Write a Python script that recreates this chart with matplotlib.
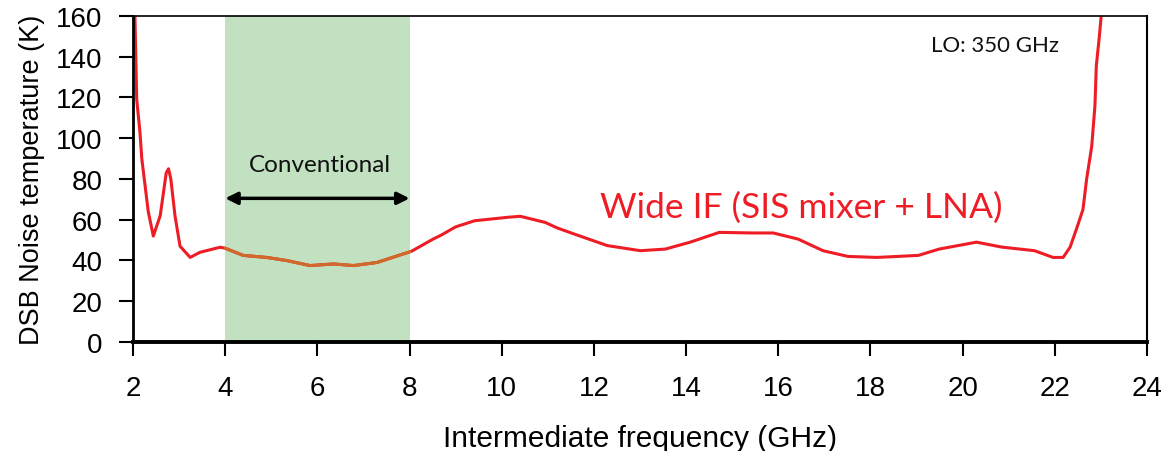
import matplotlib
matplotlib.use("Agg")
import matplotlib.pyplot as plt
import numpy as np

# IF frequency (GHz) and DSB noise temperature (K)
freq = [2.02, 2.04, 2.08, 2.15, 2.19, 2.26, 2.33, 2.44, 2.59, 2.72, 2.77, 2.82,
        2.91, 3.02, 3.24, 3.45, 3.89, 4.00, 4.39, 4.90, 5.33, 5.84, 6.35, 6.78,
        7.29, 7.79, 8.04, 8.51, 8.69, 9.00, 9.41, 10.13, 10.40, 10.94, 11.20,
        11.57, 12.29, 13.01, 13.55, 14.09, 14.72, 15.44, 15.89, 16.43, 16.97,
        17.51, 18.14, 19.04, 19.49, 20.30, 20.84, 21.56, 21.96, 22.18, 22.33,
        22.47, 22.61, 22.69, 22.80, 22.87, 22.90, 22.96, 23.01, 23.05]
tsys = [175, 161, 119, 103, 90, 77, 64, 52, 62, 83, 85, 80,
        62, 47, 41.5, 44, 46.5, 46, 42.5, 41.5, 40, 37.5, 38.3, 37.5,
        39, 42.7, 44.5, 50.5, 52.5, 56.5, 59.5, 61.2, 61.7, 58.7, 56,
        53, 47.3, 44.8, 45.6, 49, 53.8, 53.5, 53.5, 50.5, 44.8,
        42, 41.5, 42.5, 45.6, 49, 46.6, 44.8, 41.5, 41.5, 46.5,
        55.5, 65, 80, 96, 116, 135.6, 148.7, 161, 175]

conv_band = (4, 8)
xticks = list(range(2, 25, 2))
yticks = list(range(0, 161, 20))

plt.rcParams['font.family'] = ['Liberation Sans', 'DejaVu Sans']

fig = plt.figure(figsize=(11.69, 4.52), dpi=100)
ax = fig.add_axes([0.1138, 0.2412, 0.8674, 0.7212])

ax.axvspan(conv_band[0], conv_band[1], color='#c1e1c1', zorder=0, lw=0)

f = np.array(freq)
t = np.array(tsys)
ax.plot(f, t, color='#ee1c25', lw=2.2, zorder=2)
# conventional band segment drawn in orange on top
ff = np.linspace(conv_band[0], conv_band[1], 200)
ax.plot(ff, np.interp(ff, f, t), color='#d06a2a', lw=2.2, zorder=3)

ax.annotate('', xy=(conv_band[1], 70.5), xytext=(conv_band[0], 70.5),
            arrowprops=dict(arrowstyle='<|-|>', color='black', lw=2.5,
                            mutation_scale=18, shrinkA=0, shrinkB=0))
ax.text(6.05, 87, 'Conventional', ha='center', va='center', fontsize=17.5,
        family=['Lato', 'DejaVu Sans'], color='#111111')
ax.text(16.5, 66.5, 'Wide IF (SIS mixer + LNA)', ha='center', va='center',
        fontsize=25.5, family=['Lato', 'DejaVu Sans'], color='#ee1c25')
ax.text(20.7, 146, 'LO: 350 GHz', ha='center', va='center', fontsize=16,
        family=['Lato', 'DejaVu Sans'], color='#111111')

ax.set_xlim(2, 24)
ax.set_ylim(0, 160)
ax.set_xticks(xticks)
ax.set_yticks(yticks)
ax.tick_params(axis='both', direction='out', length=10, width=1.5,
               labelsize=20, colors='black')
ax.tick_params(axis='x', pad=14)
ax.tick_params(axis='y', pad=12)

ax.set_xlabel('Intermediate frequency (GHz)', fontsize=21.5, labelpad=16)
ax.set_ylabel('DSB Noise temperature (K)', fontsize=19.5, labelpad=8)

ax.spines['bottom'].set_linewidth(2.8)
ax.spines['left'].set_linewidth(2.0)
ax.spines['top'].set_linewidth(1.2)
ax.spines['right'].set_linewidth(1.5)
for s in ax.spines.values():
    s.set_color('black')
    s.set_zorder(4)

fig.savefig('out.png', dpi=100)
